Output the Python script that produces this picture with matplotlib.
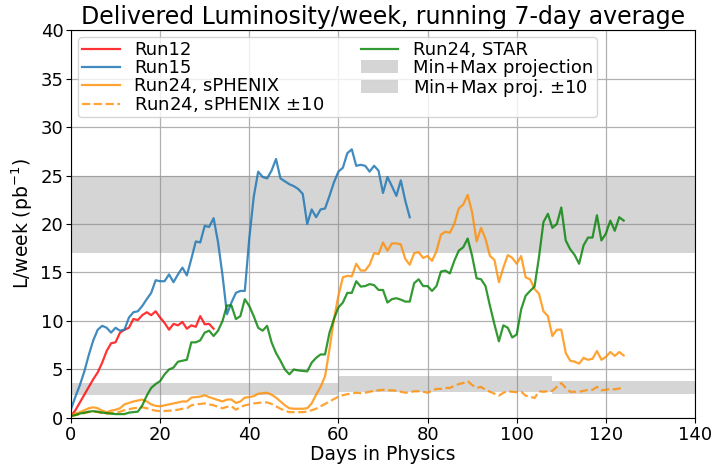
import numpy as np
import matplotlib
matplotlib.use("Agg")
import matplotlib.pyplot as plt
from matplotlib.lines import Line2D
from matplotlib.patches import Patch

# running 7-day average of delivered luminosity, pb^-1 per week, one value per day
run12 = [0.2, 0.8, 1.6, 2.4, 3.2, 4.0, 4.7, 5.7, 6.9, 7.7, 7.8, 8.8, 9.1, 9.3, 10.2,
         10.1, 10.6, 10.9, 10.6, 11.0, 10.35, 9.8, 9.1, 9.7, 9.55, 9.9, 9.2, 9.55,
         9.4, 10.5, 9.66, 9.7, 9.2]

run15 = [0.9, 2.2, 3.4, 4.8, 6.5, 8.0, 9.1, 9.5, 9.3, 8.8, 9.3, 9.0, 9.1, 10.35,
         10.9, 11.0, 11.55, 12.25, 12.9, 14.2, 14.1, 14.1, 14.8, 14.0, 14.8, 15.5,
         14.7, 16.4, 18.2, 18.1, 19.8, 19.7, 20.6, 18.1, 14.7, 10.7, 11.9, 12.9,
         13.1, 13.1, 18.5, 22.8, 25.4, 24.85, 24.7, 25.5, 26.7, 24.7, 24.4, 24.1,
         23.9, 23.6, 23.1, 20.0, 21.5, 20.7, 21.5, 21.6, 22.9, 24.3, 25.4, 25.8,
         27.3, 27.7, 26.0, 26.1, 26.0, 25.4, 26.0, 25.5, 23.2, 24.85, 23.9, 22.9,
         24.5, 22.4, 20.7]

run24_sphenix = [0.3, 0.45, 0.6, 0.8, 1.0, 1.1, 1.0, 0.75, 0.6, 0.75, 0.85, 1.0,
                 1.4, 1.55, 1.7, 1.8, 1.9, 1.7, 1.4, 1.25, 1.2, 1.3, 1.4, 1.5, 1.6,
                 1.7, 1.7, 2.1, 2.15, 2.2, 2.35, 2.15, 2.0, 1.85, 1.7, 1.9, 1.9,
                 1.55, 1.7, 2.1, 2.15, 2.25, 2.5, 2.55, 2.6, 2.4, 2.1, 1.7, 1.3, 1.0,
                 0.95, 0.95, 0.95, 1.0, 1.5, 2.4, 3.2, 4.3, 7.1, 10.2, 12.6, 14.5,
                 14.65, 14.6, 15.9, 15.2, 15.2, 15.8, 17.0, 16.9, 18.1, 17.25, 18.0,
                 18.0, 17.9, 16.4, 15.8, 17.0, 17.1, 16.5, 16.7, 16.2, 17.2, 18.9,
                 19.2, 19.1, 20.0, 21.6, 22.0, 23.0, 21.2, 18.2, 19.6, 18.45, 16.7,
                 16.3, 14.0, 15.5, 16.8, 16.5, 15.9, 16.7, 14.5, 14.3, 13.3, 12.8,
                 11.0, 10.5, 8.45, 9.1, 9.1, 6.7, 5.9, 5.8, 5.6, 6.2, 6.0, 6.1, 6.9,
                 6.0, 6.3, 6.8, 6.4, 6.8, 6.45]

run24_sphenix_10 = [0.2, 0.3, 0.4, 0.5, 0.6, 0.65, 0.6, 0.5, 0.45, 0.5, 0.55, 0.65,
                    0.8, 0.9, 1.0, 1.05, 1.1, 1.0, 0.85, 0.75, 0.7, 0.72, 0.75, 0.8,
                    0.85, 0.95, 1.0, 1.3, 1.4, 1.45, 1.5, 1.4, 1.3, 1.15, 1.0, 1.15,
                    1.2, 0.86, 1.1, 1.3, 1.4, 1.5, 1.55, 1.6, 1.6, 1.45, 1.2, 0.95,
                    0.75, 0.6, 0.6, 0.6, 0.6, 0.65, 0.8, 0.95, 1.2, 1.45, 1.7, 1.95,
                    2.2, 2.35, 2.45, 2.5, 2.6, 2.55, 2.6, 2.7, 2.8, 2.85, 2.9, 2.85,
                    2.85, 2.8, 2.7, 2.6, 2.65, 2.75, 2.75, 2.7, 2.6, 2.8, 3.0, 3.0,
                    3.1, 3.1, 3.3, 3.5, 3.6, 3.8, 3.4, 3.1, 3.2, 2.9, 2.7, 2.5, 2.3,
                    2.6, 2.75, 2.7, 2.65, 2.7, 2.3, 2.2, 2.05, 2.75, 2.7, 2.75, 2.8,
                    3.2, 3.6, 3.1, 2.7, 2.7, 2.7, 2.8, 2.9, 2.9, 3.2, 2.85, 2.9, 3.0,
                    2.95, 3.05, 3.0]

run24_star = [0.2, 0.3, 0.45, 0.55, 0.65, 0.7, 0.65, 0.55, 0.5, 0.45, 0.4, 0.4, 0.4,
              0.55, 0.6, 0.65, 1.3, 2.3, 3.1, 3.5, 3.8, 4.5, 5.0, 5.2, 5.8, 5.9, 6.0,
              7.8, 7.8, 8.0, 8.8, 9.0, 8.45, 9.0, 10.0, 11.6, 11.6, 10.2, 10.5, 12.25,
              11.55, 10.5, 9.3, 9.0, 9.5, 7.8, 6.7, 5.9, 5.0, 4.5, 5.0, 4.9, 4.85,
              4.8, 5.7, 6.2, 6.55, 6.55, 8.8, 10.2, 11.4, 11.9, 12.9, 12.9, 14.1,
              13.55, 13.6, 13.8, 13.7, 13.2, 13.2, 11.9, 12.25, 12.35, 12.2, 12.0,
              12.0, 13.9, 14.3, 13.6, 13.6, 13.1, 13.6, 15.1, 15.2, 14.9, 16.2,
              17.25, 17.6, 18.5, 16.7, 14.4, 14.3, 13.6, 11.55, 9.66, 7.9, 9.55, 9.3,
              8.3, 8.6, 11.2, 12.6, 13.1, 13.55, 16.6, 20.2, 21.05, 19.6, 20.0, 21.7,
              18.3, 17.4, 16.8, 15.9, 17.8, 18.6, 18.6, 20.9, 18.3, 19.0, 20.35,
              19.3, 20.7, 20.35]

# projection bands
proj_days = [0, 140]
proj_lo = [17, 17]
proj_hi = [25, 25]
proj10_days = [0, 60, 108, 140]
proj10_lo = [2.4, 2.7, 2.5]
proj10_hi = [3.65, 4.3, 3.85]

fig = plt.figure(figsize=(7.14, 4.67), dpi=100)
ax = fig.add_axes([0.0994, 0.105, 0.8740, 0.8307])

ax.grid(True, color='#b0b0b0', lw=0.9)
ax.set_axisbelow(True)

ax.fill_between(proj_days, proj_lo, proj_hi, color='gray', alpha=0.33, lw=0)
ax.fill_between(proj10_days, proj10_lo + proj10_lo[-1:], proj10_hi + proj10_hi[-1:],
                step='post', color='gray', alpha=0.33, lw=0)

a = 0.8
ax.plot(np.arange(len(run12)), run12, color='red', alpha=a, lw=1.6)
ax.plot(np.arange(len(run15)), run15, color='tab:blue', alpha=0.85, lw=1.6)
ax.plot(np.arange(len(run24_sphenix)), run24_sphenix, color='darkorange', alpha=a, lw=1.6)
ax.plot(np.arange(len(run24_sphenix_10)), run24_sphenix_10, color='darkorange', alpha=a,
        lw=1.6, ls='--')
ax.plot(np.arange(len(run24_star)), run24_star, color='green', alpha=a, lw=1.6)

ax.set_xlim(0, 140)
ax.set_ylim(0, 40)
ax.set_xticks(np.arange(0, 141, 20))
ax.set_yticks(np.arange(0, 41, 5))
ax.tick_params(labelsize=13, pad=2)
ax.set_xlabel('Days in Physics', fontsize=13.5, labelpad=1)
ax.set_ylabel('L/week (pb$^{-1}$)', fontsize=13.5, labelpad=4)
ax.set_title('Delivered Luminosity/week, running 7-day average', fontsize=17, pad=4)

handles = [
    Line2D([], [], color='red', alpha=a, lw=1.6),
    Line2D([], [], color='tab:blue', alpha=0.85, lw=1.6),
    Line2D([], [], color='darkorange', alpha=a, lw=1.6),
    Line2D([], [], color='darkorange', alpha=a, lw=1.6, ls='--'),
    Line2D([], [], color='green', alpha=a, lw=1.6),
    Patch(color='gray', alpha=0.33, lw=0),
    Patch(color='gray', alpha=0.33, lw=0),
]
labels = ['Run12', 'Run15', 'Run24, sPHENIX', r'Run24, sPHENIX $\pm$10',
          'Run24, STAR', 'Min+Max projection', r'Min+Max proj. $\pm$10']
ax.legend(handles, labels, loc='upper left', ncol=2, fontsize=13, labelspacing=0.0,
          borderpad=0.2, columnspacing=2.0, handletextpad=0.8, handlelength=2.1,
          borderaxespad=0.4)

fig.savefig('out.png', dpi=100)
